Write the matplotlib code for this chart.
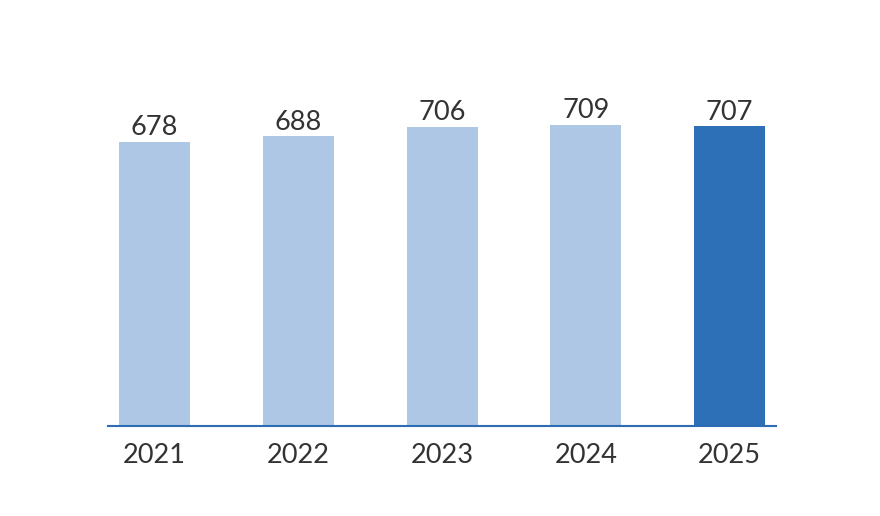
import matplotlib
matplotlib.use("Agg")
import matplotlib.pyplot as plt

years = ["2021", "2022", "2023", "2024", "2025"]
values = [678, 688, 706, 709, 707]
colors = ["#adc7e5", "#adc7e5", "#adc7e5", "#adc7e5", "#2d70b7"]

plt.rcParams["font.family"] = ["Lato", "DejaVu Sans"]

fig = plt.figure(figsize=(8.8, 5.16), dpi=100)
ax = fig.add_axes([0.1227, 0.1744, 0.7591, 0.71])

x = range(len(years))
bars = ax.bar(x, values, width=0.494, color=colors, zorder=2)

# value labels above the bars
for xi, v in zip(x, values):
    ax.annotate(str(v), (xi, v), xytext=(0, 1), textcoords="offset points",
                ha="center", va="bottom", fontsize=19.5, color="#333333")

ax.set_xlim(-0.323, 4.322)
ax.set_ylim(160, 160 + 366 / 0.548)
ax.set_xticks(list(x))
ax.set_xticklabels(years, fontsize=19.5, color="#333333")
ax.tick_params(axis="x", length=0, pad=12)
ax.set_yticks([])

for s in ["top", "right", "left"]:
    ax.spines[s].set_visible(False)
ax.spines["bottom"].set_color("#2e6db4")
ax.spines["bottom"].set_linewidth(1.5)

fig.savefig("out.png", dpi=100)
